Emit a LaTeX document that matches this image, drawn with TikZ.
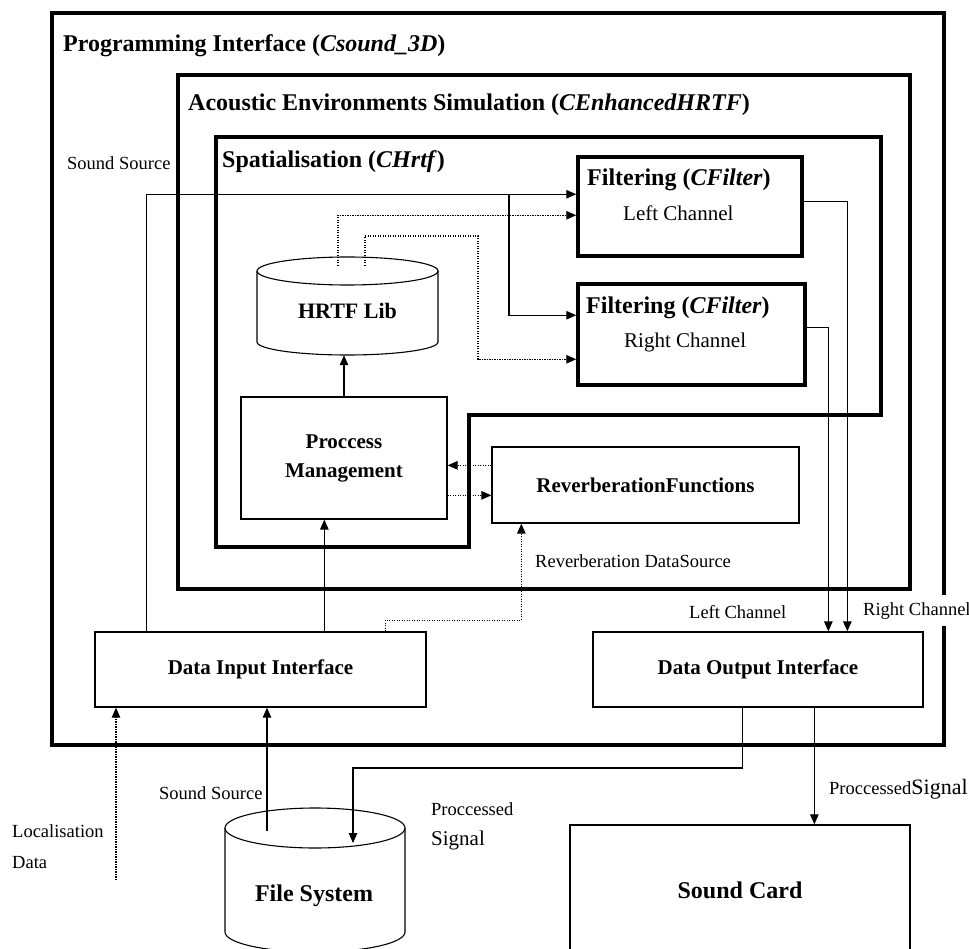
\documentclass[tikz,border=0pt]{standalone}
\usepackage{fontspec}
\setmainfont{Liberation Serif}
\usetikzlibrary{arrows.meta,calc}
\newcommand\bigbf{\fontsize{24}{26}\selectfont\bfseries}
\newcommand\midbf{\fontsize{21}{29}\selectfont\bfseries}
\newcommand\smallrm{\fontsize{18.5}{20}\selectfont}
\newcommand\midrm{\fontsize{21}{22}\selectfont}
\tikzset{
  frame/.style={line width=4.5pt},
  filterbox/.style={draw, line width=3.5pt, inner sep=0pt},
  procbox/.style={draw, line width=1.3pt, font=\midbf, align=center, inner sep=0pt},
  lbl/.style={inner sep=0pt, anchor=base west, font=\smallrm},
  wire/.style={line width=1.1pt},
  dots/.style={line width=1.1pt, dash pattern=on 1.1pt off 1.4pt},
  tip/.style={-{Triangle[length=10pt,width=8.5pt]}}
}
\begin{document}
\begin{tikzpicture}[x=1pt,y=-1pt]
\useasboundingbox (0,0) rectangle (969,949);

\draw[frame] (52,13) rectangle (944,745);
\node[lbl, font=\bigbf] (piTitle) at (63,52) {Programming Interface (\textit{Csound\_3D})};

\draw[frame] (178,75) rectangle (910,589);
\node[lbl, font=\bigbf] (aesTitle) at (188,111) {Acoustic Environments Simulation (\textit{CEnhancedHRTF})};

\draw[frame] (216,137) -- (881,137) -- (881,415) -- (469,415) -- (469,547) -- (216,547) -- cycle;
\node[lbl, font=\bigbf] (spTitle) at (222,168) {Spatialisation (\textit{CHrtf})};

\node[filterbox, minimum width=224, minimum height=99] (fl) at (690,206.5) {};
\node[lbl, font=\bigbf] (flTitle) at (587,186) {Filtering (\textit{CFilter})};
\node[lbl, font=\midrm] (flText) at (623,221) {Left Channel};

\node[filterbox, minimum width=227, minimum height=101] (fr) at (691.5,334.5) {};
\node[lbl, font=\bigbf] (frTitle) at (586,314) {Filtering (\textit{CFilter})};
\node[lbl, font=\midrm] (frText) at (624,348) {Right Channel};

\draw[wire] (257,271) -- (257,342) arc[start angle=180, end angle=0, x radius=90.5, y radius=13] -- (438,271);
\draw[wire] (347.5,271) ellipse [x radius=90.5, y radius=14];
\node[font=\fontsize{22}{24}\selectfont\bfseries, minimum width=181, minimum height=88, inner sep=0pt] (hrtf) at (347.5,311) {HRTF Lib};

\node[procbox, minimum width=206, minimum height=122] (pm) at (344,458) {Proccess\\Management};
\node[procbox, minimum width=307, minimum height=76] (rf) at (645.5,485) {ReverberationFunctions};
\node[procbox, minimum width=331, minimum height=75] (dii) at (260.5,669.5) {Data Input Interface};
\node[procbox, minimum width=330, minimum height=75] (doi) at (758,669.5) {Data Output Interface};
\node[procbox, font=\bigbf, minimum width=340, minimum height=130] (sc) at (740,890) {Sound Card};

\coordinate (fstop) at (315,828);
\draw[wire] (225,828) -- (225,932) arc[start angle=180, end angle=0, x radius=90, y radius=20] -- (405,828);
\draw[wire] (fstop) ellipse [x radius=90, y radius=20];
\node[font=\bigbf, inner sep=0pt] (fs) at (314,896) {File System};

\coordinate (split) at (509,194);
\draw[wire, tip] ($(dii.north west)+(52,0)$) |- ($(fl.north west)+(0,39)$);
\draw[wire, tip] (split) |- ($(fr.north west)+(0,33)$);

\coordinate (h1) at ($(hrtf.north)+(-9.5,-1)$);
\coordinate (h2) at ($(hrtf.north)+(17.5,-1)$);
\draw[dots, tip] (h1) |- ($(fl.north west)+(0,60)$);
\draw[dots, tip] (h2) |- (478,236) |- ($(fr.north west)+(0,77)$);

\draw[wire, tip] (pm.north) -- (pm.north |- hrtf.south);
\draw[dots, tip] ($(rf.north west)+(0,19)$) coordinate (r1) -- (r1 -| pm.east);
\draw[dots, tip] ($(pm.north east)+(0,99)$) -- ($(rf.north west)+(0,49)$);

\draw[wire, tip] ($(dii.north west)+(230,0)$) coordinate (d1) -- (d1 |- pm.south);
\draw[dots, tip] ($(dii.north west)+(291,0)$) -- ++(0,-11) -| ($(rf.south west)+(30,0)$);

\draw[wire, tip] ($(fl.north east)+(0,46)$) -| ($(doi.north west)+(255,0)$);
\draw[wire, tip] ($(fr.north east)+(0,45)$) -| ($(doi.north west)+(236,0)$);

\draw[wire, tip] ($(doi.south west)+(150,0)$) |- ($(fstop)+(38,-60)$) -- ($(fstop)+(38,15)$);
\draw[wire, tip] ($(doi.south west)+(222,0)$) coordinate (d2) -- (d2 |- sc.north);
\draw[wire, tip] ($(fstop)+(-48,3)$) coordinate (f1) -- (f1 |- dii.south);

\coordinate (loc) at (116,880);
\draw[dots, tip] (loc) -- (loc |- dii.south);

\node[lbl] (ssTop) at (67,170) {Sound Source};
\node[lbl] (rdsLbl) at (535,567) {Reverberation DataSource};
\node[lbl] (lcLbl) at (689,618) {Left Channel};
\node[lbl, fill=white, inner xsep=1pt, inner ysep=7pt] (rcLbl) at (862,615) {Right Channel};
\node[lbl] (ssBot) at (159,799) {Sound Source};
\node[lbl] (locLbl) at (12,837) {Localisation};
\node[lbl] (dataLbl) at (12,868) {Data};
\node[lbl] (psLbl1) at (431,815) {Proccessed};
\node[lbl, font=\midrm] (psLbl2) at (431,845) {Signal};
\node[lbl] (psLbl3) at (829,794) {Proccessed{\fontsize{22}{24}\selectfont Signal}};
\end{tikzpicture}
\end{document}
